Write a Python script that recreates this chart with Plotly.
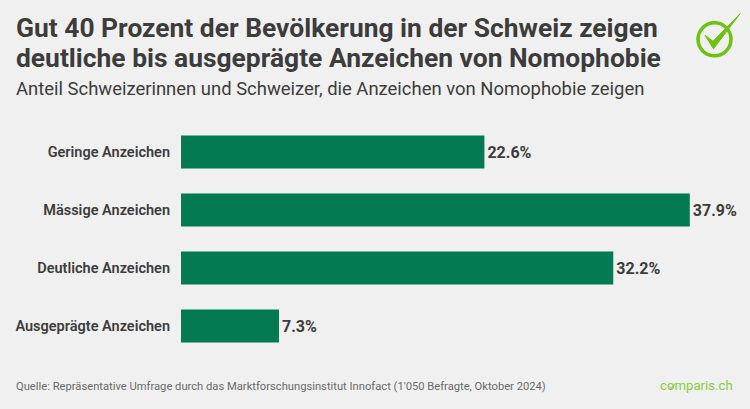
import plotly.graph_objects as go

W = 750
H = 409
M_L, M_R, M_T, M_B = 180.5, 32, 122.7, 54.3

categories = ["Geringe Anzeichen", "Mässige Anzeichen", "Deutliche Anzeichen", "Ausgeprägte Anzeichen"]
shares = [22.6, 37.9, 32.2, 7.3]
value_labels = ["22.6%", "37.9%", "32.2%", "7.3%"]

title_lines = ["Gut 40 Prozent der Bevölkerung in der Schweiz zeigen",
               "deutliche bis ausgeprägte Anzeichen von Nomophobie"]
subtitle = "Anteil Schweizerinnen und Schweizer, die Anzeichen von Nomophobie zeigen"
source = "Quelle: Repräsentative Umfrage durch das Marktforschungsinstitut Innofact (1'050 Befragte, Oktober 2024)"

DARK = "#3c3c3c"
GREEN = "#047a52"
LIME = "#6cc20e"
BG = "#f0f0f0"
FONT = "Roboto"


def px(x):
	return (x - M_L) / (W - M_L - M_R)


def py(y):
	return 1 - (y - M_T) / (H - M_T - M_B)


def text(x, y, s, size, color=DARK, weight=400, anchor="left"):
	# page text, positioned in pixels from the top left
	return dict(x=px(x), y=py(y), xref="paper", yref="paper", text=s, showarrow=False,
				xanchor=anchor, yanchor="middle", font=dict(family=FONT, size=size, color=color, weight=weight))


fig = go.Figure()
fig.add_trace(go.Bar(
	x=shares, y=categories, orientation="h", marker=dict(color=GREEN, line=dict(width=0)),
	text=value_labels, textposition="outside", cliponaxis=False, width=0.57,
	textfont=dict(family=FONT, size=16, color=DARK, weight=700),
))

# logo: ring with a check mark, and the small check in the wordmark
logo = [
	dict(type="circle", xref="paper", yref="paper", x0=px(698), x1=px(731), y0=py(55.5), y1=py(22.5),
		 line=dict(color=LIME, width=3.5)),
	dict(type="path", xref="paper", yref="paper",
		 path=f"M {px(705)} {py(35)} L {px(713)} {py(41)} L {px(740)} {py(13.5)} L {px(713.5)} {py(48.5)} Z",
		 fillcolor=LIME, line=dict(color=LIME, width=1)),
	dict(type="path", xref="paper", yref="paper",
		 path=f"M {px(669.5)} {py(386)} L {px(671)} {py(388.5)} L {px(675)} {py(383)}",
		 line=dict(color="#8acb3c", width=1)),
]

fig.update_layout(
	width=W, height=H, autosize=False, showlegend=False,
	paper_bgcolor=BG, plot_bgcolor=BG,
	margin=dict(l=M_L, r=M_R, t=M_T, b=M_B, pad=0),
	xaxis=dict(range=[0, 40], visible=False, fixedrange=True),
	yaxis=dict(autorange="reversed", showgrid=False, zeroline=False, showline=False, ticks="",
			   ticklabelstandoff=10, tickfont=dict(family=FONT, size=14.5, color=DARK, weight=600)),
	shapes=logo,
	annotations=[
		text(13, 28, title_lines[0], 26.4, weight=700),
		text(13, 58, title_lines[1], 26.4, weight=700),
		text(13, 89, subtitle, 18.45),
		text(13, 386, source, 11.2, color="#6a6a6a"),
		text(735.5, 385, "comparis.ch", 13.2, color="#8acb3c", anchor="right"),
	],
)

fig.write_html("out.html", config=dict(displayModeBar=False),
			   post_script="document.body.style.margin='0';document.body.style.background='%s';" % BG)
